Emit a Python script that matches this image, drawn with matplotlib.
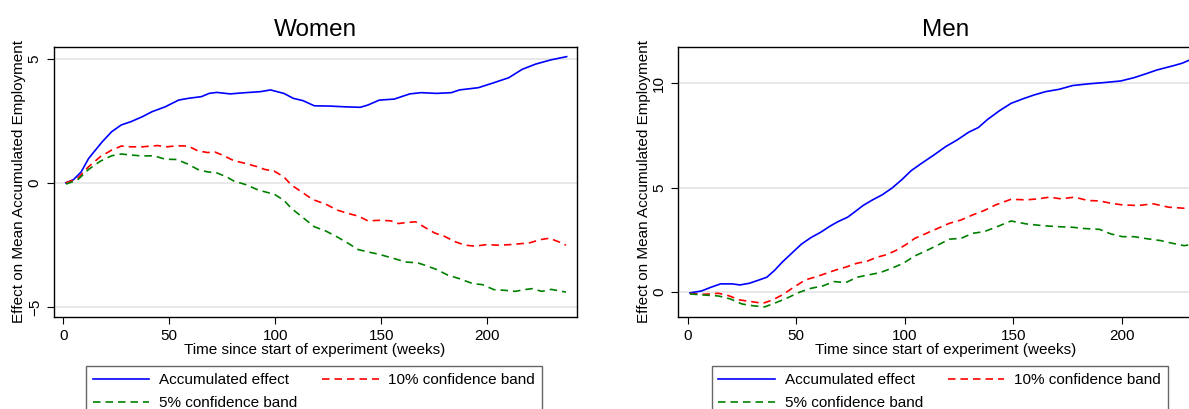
import matplotlib
matplotlib.use("Agg")
import matplotlib.pyplot as plt
from matplotlib.lines import Line2D

plt.rcParams['font.family'] = ['Liberation Sans', 'DejaVu Sans']

# Women: weeks and effect values
w_x_acc = [1.3, 4.9, 8.5, 12, 18.4, 22.9, 27.4, 31.9, 37.3, 41.8, 48.1, 54.4, 58.9, 65.2, 68.8,
           72.4, 78.7, 86, 93, 97.7, 104, 108.5, 113, 118.4, 125.6, 132.8, 140, 143.6, 149, 156,
           163.4, 168.8, 176, 183, 186.8, 195.7, 203, 210, 216.4, 222.7, 229.9, 237.3]
w_acc = [0, 0.13, 0.44, 0.98, 1.65, 2.06, 2.33, 2.46, 2.66, 2.86, 3.06, 3.33, 3.40, 3.47, 3.60,
         3.64, 3.58, 3.63, 3.67, 3.74, 3.60, 3.40, 3.31, 3.10, 3.09, 3.06, 3.04, 3.13, 3.33, 3.37,
         3.58, 3.63, 3.60, 3.63, 3.74, 3.83, 4.03, 4.23, 4.57, 4.78, 4.95, 5.08]

w_x_10 = [1.3, 6.7, 12, 17.5, 22.9, 27.4, 31.9, 37.3, 44.5, 49, 53.5, 58.9, 63.4, 68, 71.5, 75,
          80.5, 86, 91.4, 95, 99.5, 104, 107.6, 113, 117.5, 123.8, 129.2, 134.6, 139.1, 143.6,
          149, 154.4, 158, 161.6, 166.1, 170.6, 175.1, 179.6, 185, 189.5, 194, 199.5, 204.9,
          210.3, 215.7, 220.2, 224.7, 229.2, 233.7, 237]
w_10 = [0, 0.17, 0.65, 1.05, 1.32, 1.48, 1.45, 1.45, 1.5, 1.45, 1.49, 1.48, 1.29, 1.22, 1.24, 1.12,
        0.89, 0.78, 0.65, 0.54, 0.47, 0.24, -0.09, -0.40, -0.67, -0.86, -1.10, -1.24, -1.34, -1.53,
        -1.51, -1.53, -1.64, -1.60, -1.57, -1.80, -2.02, -2.15, -2.38, -2.51, -2.55, -2.49, -2.51,
        -2.49, -2.45, -2.41, -2.29, -2.23, -2.38, -2.51]

w_x_5 = [1.3, 6.7, 12, 17.5, 22.9, 27.4, 31.9, 37.3, 42.7, 48.1, 53.5, 58.9, 63.4, 68, 72.4, 77,
         80.5, 86, 91.4, 95, 99.5, 104, 107.6, 113, 118.4, 123.8, 129.2, 134.6, 139.1, 143.6, 149,
         154.4, 161.6, 167, 170.6, 176, 181.4, 186.8, 193.1, 197.7, 203, 208.5, 213, 217.5, 221,
         225.6, 230, 237]
w_5 = [-0.05, 0.11, 0.54, 0.87, 1.09, 1.16, 1.12, 1.08, 1.09, 0.95, 0.94, 0.75, 0.54, 0.44, 0.40,
       0.24, 0.07, -0.07, -0.27, -0.36, -0.46, -0.70, -1.03, -1.40, -1.77, -1.94, -2.18, -2.45,
       -2.69, -2.78, -2.88, -3.01, -3.19, -3.22, -3.32, -3.49, -3.72, -3.86, -4.06, -4.10, -4.30,
       -4.33, -4.37, -4.30, -4.26, -4.37, -4.29, -4.40]

# Men
m_x_acc = [1.1, 6.4, 10.8, 15.2, 20.5, 24.1, 28.5, 33, 36.5, 40, 43.6, 48, 52.4, 56.9, 61.3, 65.7,
           69.3, 73.7, 77.2, 80.8, 85.2, 89.6, 94.1, 98.5, 103, 108.2, 113.5, 118.9, 124.2, 129.5,
           133.9, 138.3, 143.7, 149, 154.3, 159.6, 164.9, 171.1, 177.3, 184.4, 191.5, 199.5, 205.7,
           211, 216.3, 223.4, 227.8, 232.3, 236.7, 239]
m_acc = [-0.03, 0.06, 0.24, 0.40, 0.40, 0.35, 0.43, 0.59, 0.72, 1.04, 1.44, 1.87, 2.30, 2.62, 2.87,
         3.17, 3.38, 3.59, 3.86, 4.15, 4.42, 4.66, 4.98, 5.37, 5.82, 6.20, 6.57, 6.97, 7.29, 7.66,
         7.88, 8.28, 8.69, 9.04, 9.25, 9.44, 9.60, 9.71, 9.89, 9.97, 10.03, 10.11, 10.27, 10.45,
         10.64, 10.83, 10.96, 11.16, 11.28, 11.3]

m_x_10 = [1.1, 7.3, 14.3, 18.8, 24.1, 29.4, 34.7, 39.1, 43.6, 48.9, 54.2, 59.5, 64, 68.4, 72.8,
          78.1, 82.6, 87, 91.4, 95.8, 100.3, 104.7, 110, 115.3, 120.6, 126, 131.3, 136.6, 141.9,
          149, 156, 161.4, 166.7, 172, 178.2, 184.4, 189.7, 195, 200.3, 207.4, 214.5, 221.6, 228.7,
          236.7, 239]
m_10 = [-0.06, -0.10, -0.05, -0.16, -0.37, -0.45, -0.53, -0.37, -0.13, 0.24, 0.59, 0.75, 0.91,
        1.07, 1.20, 1.39, 1.48, 1.67, 1.79, 1.99, 2.26, 2.58, 2.82, 3.06, 3.30, 3.46, 3.70, 3.91,
        4.18, 4.45, 4.42, 4.47, 4.55, 4.47, 4.55, 4.39, 4.37, 4.26, 4.18, 4.15, 4.23, 4.07, 4.02,
        4.07, 4.05]

m_x_5 = [1.1, 7.3, 14.3, 19.7, 25, 30.3, 35.6, 40.9, 46.2, 51.5, 56.9, 62.2, 67.5, 72.8, 78.1,
         83.4, 88.7, 94.1, 99.4, 104.7, 110, 115.3, 120.6, 126, 131.3, 136.6, 141.9, 149, 156,
         163.1, 170.2, 177.3, 182.6, 189.7, 195, 200.3, 205.7, 211, 218, 223.4, 228.7, 233.1,
         236.7, 239]
m_5 = [-0.08, -0.13, -0.18, -0.32, -0.56, -0.65, -0.70, -0.49, -0.26, 0, 0.19, 0.30, 0.51, 0.46,
       0.72, 0.83, 0.94, 1.15, 1.39, 1.74, 1.99, 2.26, 2.54, 2.58, 2.82, 2.90, 3.11, 3.41, 3.27,
       3.19, 3.14, 3.11, 3.05, 3.01, 2.79, 2.66, 2.66, 2.57, 2.47, 2.34, 2.23, 2.30, 2.30, 2.28]

labels = ["Accumulated effect", "10% confidence band", "5% confidence band"]
colors = ["#0000ff", "#ff0000", "#008000"]

fig = plt.figure(figsize=(11.89, 4.09), dpi=100)
W, H = 1189.0, 409.0
LW = 1.2
DASH = (4.5, 3)


def make_panel(rect, title, series, ylim, yticks, leg_xy):
    left, top, right, bottom = rect
    ax = fig.add_axes([left / W, 1 - bottom / H, (right - left) / W, (bottom - top) / H])
    (xa, ya), (x10, y10), (x5, y5) = series
    ax.plot(xa, ya, color=colors[0], lw=LW)
    ax.plot(x10, y10, color=colors[1], lw=LW, dashes=DASH)
    ax.plot(x5, y5, color=colors[2], lw=LW, dashes=DASH)
    ax.set_xlim(-4.5, 242)
    ax.set_ylim(*ylim)
    ax.set_xticks([0, 50, 100, 150, 200])
    ax.set_yticks(yticks)
    ax.set_yticklabels([str(t).replace("-", "\u2212") for t in yticks], rotation=90, va="center")
    ax.grid(axis="y", color="#e4e4e4", lw=1.2)
    ax.set_axisbelow(True)
    ax.tick_params(labelsize=11, length=5, width=0.8, color="black")
    for s in ax.spines.values():
        s.set_linewidth(1.0)
    ax.set_title(title, fontsize=17.5, pad=8)
    ax.set_xlabel("Time since start of experiment (weeks)", fontsize=11, labelpad=0)
    ax.set_ylabel("Effect on Mean Accumulated Employment", fontsize=11, labelpad=1)

    handles = [Line2D([], [], color=colors[0], lw=LW),
               Line2D([], [], color=colors[2], lw=LW, dashes=DASH),
               Line2D([], [], color=colors[1], lw=LW, dashes=DASH)]
    lx0, ly0 = leg_xy
    leg = fig.legend(handles, [labels[0], labels[2], labels[1]], ncol=2,
                     loc="upper left", bbox_to_anchor=(lx0 / W, 1 - ly0 / H),
                     fontsize=11, frameon=True, fancybox=False, handlelength=3.7,
                     handletextpad=0.65, columnspacing=1.6, borderpad=0.45,
                     labelspacing=0.6, borderaxespad=0)
    leg.get_frame().set_edgecolor("#404040")
    leg.get_frame().set_linewidth(1.0)
    return ax


make_panel((53.6, 46.7, 576.6, 316.7), "Women",
           [(w_x_acc, w_acc), (w_x_10, w_10), (w_x_5, w_5)],
           (-5.39, 5.48), [-5, 0, 5], (86, 366))
make_panel((677.8, 46.7, 1213, 316.7), "Men",
           [(m_x_acc, m_acc), (m_x_10, m_10), (m_x_5, m_5)],
           (-1.17, 11.75), [0, 5, 10], (711.5, 366))

fig.savefig("out.png", dpi=100)
